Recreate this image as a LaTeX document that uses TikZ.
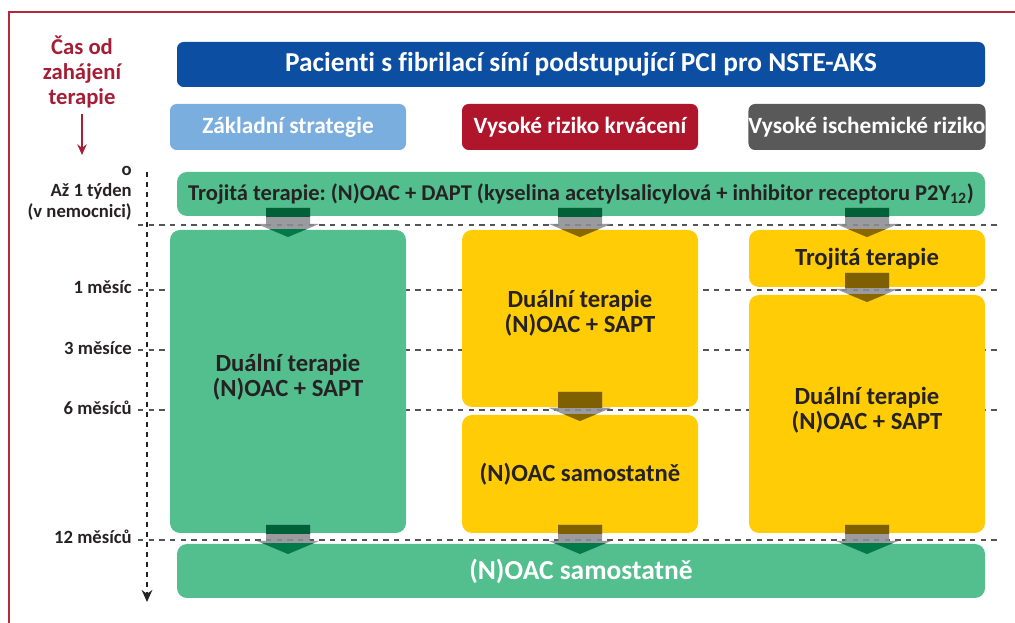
\documentclass[tikz,border=0pt]{standalone}
\usepackage{fontspec}
\setmainfont{Carlito}[RawFeature={-liga}]
\usetikzlibrary{arrows.meta}
\frenchspacing

\definecolor{titleblue}{HTML}{0B4EA2}
\definecolor{hdrblue}{HTML}{79AEDE}
\definecolor{hdrred}{HTML}{B0162B}
\definecolor{hdrgrey}{HTML}{595959}
\definecolor{boxgreen}{HTML}{53BE8E}
\definecolor{boxyellow}{HTML}{FFCC05}
\definecolor{inkdark}{HTML}{262223}
\definecolor{framered}{HTML}{B7283A}
\definecolor{labelred}{HTML}{A51E36}
\definecolor{gapgrey}{HTML}{8C8C92}
\definecolor{shaftgreen}{HTML}{006038}
\definecolor{headgreen}{HTML}{007A48}
\definecolor{shaftyellow}{HTML}{7F6000}
\definecolor{headyellow}{HTML}{8A6800}
\definecolor{dashgrey}{HTML}{555555}

% block arrow across the gap between two boxes
% #1 column x, #2 gap line y, #3 upper box, #4 lower box, #5 colour inside upper, #6 colour inside lower
\newcommand\blockarrow[6]{%
  \fill[gapgrey,opacity=0.88] (#1-22,#2-16) -- (#1+22,#2-16) -- (#1+22,#2) -- (#1+31,#2) -- (#1,#2+13) -- (#1-31,#2) -- (#1-22,#2) -- cycle;
  \begin{scope}
    \clip (#3.south west) rectangle (#3.north east);
    \fill[#5] (#1-22,#2-16) -- (#1+22,#2-16) -- (#1+22,#2) -- (#1+31,#2) -- (#1,#2+13) -- (#1-31,#2) -- (#1-22,#2) -- cycle;
  \end{scope}
  \begin{scope}
    \clip (#4.south west) rectangle (#4.north east);
    \fill[#6] (#1-22,#2-16) -- (#1+22,#2-16) -- (#1+22,#2) -- (#1+31,#2) -- (#1,#2+13) -- (#1-31,#2) -- (#1-22,#2) -- cycle;
  \end{scope}%
}

\begin{document}
\begin{tikzpicture}[x=0.75pt,y=-0.75pt,
  boxsize/.style 2 args={minimum width=#1*0.75pt, minimum height=#2*0.75pt},
  panel/.style={rounded corners=7.5pt, inner sep=0pt, align=center, text=inkdark,
    font=\bfseries\fontsize{18.5}{18.8}\selectfont},
  header/.style={rounded corners=5pt, inner sep=0pt, align=center, text=white,
    font=\bfseries\fontsize{17.5}{20}\selectfont},
  timelabel/.style={anchor=east, inner sep=0pt, text=inkdark, align=right,
    font=\bfseries\fontsize{14}{15.5}\selectfont},
  timeline/.style={draw=dashgrey, line width=1.3pt, dash pattern=on 4pt off 4pt},
  axisline/.style={draw=inkdark, line width=1.3pt, dash pattern=on 3.5pt off 4pt},
]
\useasboundingbox (0,0) rectangle (1015,623);

% outer frame (top and left edges)
\draw[framered, line width=1.6pt] (9,623) -- (9,12) -- (1015,12);

% time axis heading and arrow
\node[text=labelred, align=center, inner sep=0pt,
  font=\bfseries\fontsize{17}{18.8}\selectfont] (axishead) at (82,72)
  {Čas od\\zahájení\\terapie};
\coordinate (axisarrowend) at (82,155);
\draw[labelred, line width=1.3pt, -{Stealth[length=8pt,width=7pt]}]
  (82,114) -- (axisarrowend);

% horizontal time marks
\draw[timeline] (138,225) -- (1000,225);
\draw[timeline] (138,290) -- (1000,290);
\draw[timeline] (138,350) -- (1000,350);
\draw[timeline] (138,410) -- (1000,410);
\draw[timeline] (138,540) -- (1000,540);

% vertical time axis
\coordinate (axistop) at (147,172);
\coordinate (axisbottom) at (147,602);
\draw[axisline, -{Stealth[length=9pt,width=8pt]}] (axistop) -- (axisbottom);

% time labels
\node[timelabel] (t0) at (132,171) {o};
\node[timelabel] (t1w) at (132,202) {Až 1 týden\\(v nemocnici)};
\node[timelabel] (t1m) at (132,287) {1 měsíc};
\node[timelabel] (t3m) at (132,348) {3 měsíce};
\node[timelabel] (t6m) at (132,408) {6 měsíců};
\node[timelabel] (t12m) at (132,537) {12 měsíců};

% title and column headers
\node[header, fill=titleblue, boxsize={808}{45}, font=\bfseries\fontsize{20.5}{24}\selectfont]
  (title) at (581,64.5) {Pacienti s fibrilací síní podstupující PCI pro NSTE-AKS};
\node[header, fill=hdrblue, boxsize={236}{46}] (hbase) at (288,127) {Základní strategie};
\node[header, fill=hdrred, boxsize={236}{46}] (hbleed) at (580,127) {Vysoké riziko krvácení};
\node[header, fill=hdrgrey, boxsize={236}{46}] (hisch) at (867,127) {Vysoké ischemické riziko};

% therapy boxes
\node[panel, fill=boxgreen, boxsize={808}{44}, font=\bfseries\fontsize{16.9}{19}\selectfont]
  (triple) at (581,194) {Trojitá terapie: (N)OAC + DAPT (kyselina acetylsalicylová + inhibitor receptoru P2Y\textsubscript{12})};
\node[panel, fill=boxgreen, boxsize={236}{303}] (leftdual) at (288,381.5) {};
\node[panel] at (288,377) {Duální terapie\\(N)OAC + SAPT};
\node[panel, fill=boxyellow, boxsize={236}{177}] (middual) at (580,318.5) {};
\node[panel] at (580,313) {Duální terapie\\(N)OAC + SAPT};
\node[panel, fill=boxyellow, boxsize={236}{118}] (midoac) at (580,474) {(N)OAC samostatně};
\node[panel, fill=boxyellow, boxsize={236}{57}] (righttriple) at (867,258.5) {Trojitá terapie};
\node[panel, fill=boxyellow, boxsize={236}{238}] (rightdual) at (867,414) {};
\node[panel] at (867,410) {Duální terapie\\(N)OAC + SAPT};
\node[panel, fill=boxgreen, boxsize={808}{54}, text=white, font=\bfseries\fontsize{20.6}{24}\selectfont]
  (bottom) at (581,571) {(N)OAC samostatně};

% transition arrows
\blockarrow{288}{224}{triple}{leftdual}{shaftgreen}{headgreen}
\blockarrow{580}{224}{triple}{middual}{shaftgreen}{headyellow}
\blockarrow{867}{224}{triple}{righttriple}{shaftgreen}{headyellow}
\blockarrow{867}{289}{righttriple}{rightdual}{shaftyellow}{headyellow}
\blockarrow{580}{408}{middual}{midoac}{shaftyellow}{headyellow}
\blockarrow{288}{541}{leftdual}{bottom}{shaftgreen}{headgreen}
\blockarrow{580}{541}{midoac}{bottom}{shaftyellow}{headgreen}
\blockarrow{867}{541}{rightdual}{bottom}{shaftyellow}{headgreen}

\end{tikzpicture}
\end{document}
